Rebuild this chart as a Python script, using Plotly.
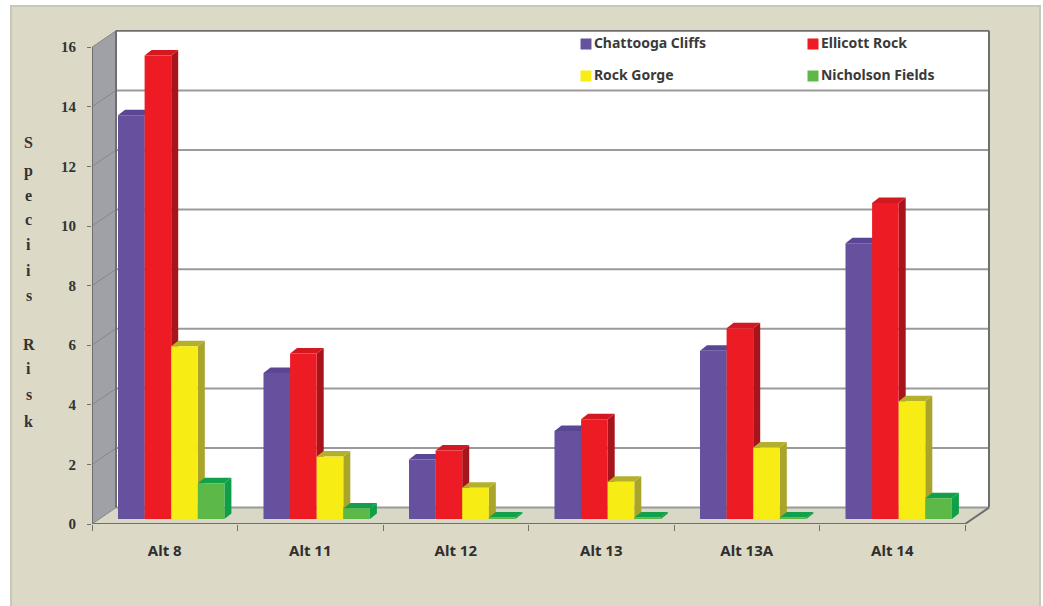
import plotly.graph_objects as go

categories = ["Alt 8", "Alt 11", "Alt 12", "Alt 13", "Alt 13A", "Alt 14"]
chattooga = [13.55, 4.9, 2.0, 2.95, 5.65, 9.25]
ellicott = [15.55, 5.55, 2.3, 3.35, 6.4, 10.6]
rock_gorge = [5.8, 2.1, 1.05, 1.25, 2.4, 3.95]
nicholson = [1.2, 0.35, 0.05, 0.05, 0.05, 0.7]
y_ticks = [0, 2, 4, 6, 8, 10, 12, 14, 16]
title_letters = ["S", "p", "e", "c", "i", "i", "s", "R", "i", "s", "k"]
title_pixels = [142, 170, 195, 220, 244, 270, 295, 344, 368, 394, 421]

W, H = 1043, 606
LEFT, RIGHT, TOP, BOTTOM = 92, 992, 30, 524
CAT_PX = 145.5
UNIT_PX = 29.8
XMAX = (RIGHT - LEFT) / CAT_PX
YMAX = (BOTTOM - TOP) / UNIT_PX


def px_x(p):
    return (p - LEFT) / CAT_PX


def px_y(p):
    return (BOTTOM - p) / UNIT_PX


def paper_x(p):
    return (p - LEFT) / (RIGHT - LEFT)


def paper_y(p):
    return (BOTTOM - p) / (BOTTOM - TOP)


WALL_DX, WALL_DY = px_x(116), 0.55
BAR_W, BAR_START, BAR_BASE = 26.6 / CAT_PX, 26 / CAT_PX, 5 / UNIT_PX
DEPTH_X, DEPTH_Y = 7 / CAT_PX, 5.5 / UNIT_PX

series = [
    ("Chattooga Cliffs", chattooga, "#66519f", "#4c3a80", "#5b4696"),
    ("Ellicott Rock", ellicott, "#ed1c24", "#a8141c", "#d3181f"),
    ("Rock Gorge", rock_gorge, "#f7ec13", "#a8a52a", "#b5b02c"),
    ("Nicholson Fields", nicholson, "#5cb947", "#0e9f48", "#13a04a"),
]
legend_pos = [(586, 44), (813, 44), (586, 76), (813, 76)]

GRID = "#9a9a9a"
EDGE = "#6f6f6f"
PANEL = "#dcd9c6"

shapes = [
    dict(type="rect", xref="paper", yref="paper", layer="below",
         x0=paper_x(11), x1=paper_x(1040), y0=paper_y(610), y1=paper_y(6),
         fillcolor=PANEL, line=dict(color="#c8c8b8", width=2)),
    # back wall
    dict(type="rect", layer="below", x0=WALL_DX, x1=6 + WALL_DX, y0=WALL_DY, y1=16 + WALL_DY,
         fillcolor="#ffffff", line=dict(width=0)),
    # left wall
    dict(type="path", layer="below",
         path=f"M0,0 L{WALL_DX},{WALL_DY} L{WALL_DX},{16 + WALL_DY} L0,16 Z",
         fillcolor="#a0a1a7", line=dict(width=0)),
    # floor
    dict(type="path", layer="below",
         path=f"M0,0 L{WALL_DX},{WALL_DY} L{6 + WALL_DX},{WALL_DY} L6,0 Z",
         fillcolor="#d9d7c5", line=dict(width=0)),
]
for v in y_ticks:
    shapes.append(dict(type="line", layer="below", x0=WALL_DX, x1=6 + WALL_DX,
                       y0=v + WALL_DY, y1=v + WALL_DY,
                       line=dict(color=EDGE if v == 16 else GRID, width=2)))
    shapes.append(dict(type="line", layer="below", x0=0, x1=WALL_DX, y0=v, y1=v + WALL_DY,
                       line=dict(color="#85858a", width=1)))
for x0, y0, x1, y1, wd in [
    (0, 0, 0, 16, 2),
    (WALL_DX, WALL_DY, WALL_DX, 16 + WALL_DY, 2),
    (6 + WALL_DX, WALL_DY, 6 + WALL_DX, 16 + WALL_DY, 2),
    (0, 0, 6, 0, 2),
    (6, 0, 6 + WALL_DX, WALL_DY, 2),
]:
    shapes.append(dict(type="line", layer="below", x0=x0, x1=x1, y0=y0, y1=y1,
                       line=dict(color=EDGE, width=wd)))

fig = go.Figure()


def add_faces(name, xs, ys, color):
    fig.add_trace(go.Scatter(x=xs, y=ys, mode="lines", fill="toself", fillcolor=color,
                             line=dict(width=0), name=name, showlegend=False, hoverinfo="skip"))


for s, (name, values, front, side, top) in enumerate(series):
    fx, fy, sx, sy, tx, ty = [], [], [], [], [], []
    for i, v in enumerate(values):
        x0 = i + BAR_START + s * BAR_W
        x1 = x0 + BAR_W
        y0 = BAR_BASE
        y1 = BAR_BASE + v
        fx += [x0, x1, x1, x0, x0, None]
        fy += [y0, y0, y1, y1, y0, None]
        sx += [x1, x1 + DEPTH_X, x1 + DEPTH_X, x1, x1, None]
        sy += [y0, y0 + DEPTH_Y, y1 + DEPTH_Y, y1, y0, None]
        tx += [x0, x1, x1 + DEPTH_X, x0 + DEPTH_X, x0, None]
        ty += [y1, y1, y1 + DEPTH_Y, y1 + DEPTH_Y, y1, None]
    add_faces(name, sx, sy, side)
    add_faces(name, tx, ty, top)
    add_faces(name, fx, fy, front)

for (name, _, front, _, _), (lx, ly) in zip(series, legend_pos):
    fig.add_trace(go.Scatter(
        x=[px_x(lx)], y=[px_y(ly)], mode="markers+text", text=[name],
        textposition="middle right",
        textfont=dict(family="Noto Sans", size=14, color="#3a3a3a", weight="bold"),
        marker=dict(symbol="square", size=11, color=front),
        showlegend=False, hoverinfo="skip"))

annotations = [
    dict(x=paper_x(29), y=paper_y(p), xref="paper", yref="paper", text=f"<b>{ch}</b>",
         xanchor="center", yanchor="middle", height=19, showarrow=False,
         font=dict(family="Liberation Serif", size=16, color="#333333"))
    for ch, p in zip(title_letters, title_pixels)
]

fig.update_layout(
    width=W, height=H,
    margin=dict(l=LEFT, r=W - RIGHT, t=TOP, b=H - BOTTOM, pad=0),
    paper_bgcolor="#ffffff", plot_bgcolor="rgba(0,0,0,0)",
    showlegend=False, shapes=shapes, annotations=annotations,
    xaxis=dict(range=[0, XMAX], tickmode="array",
               tickvals=[i + 0.5 for i in range(len(categories))], ticktext=categories,
               ticks="", showgrid=False, zeroline=False, showline=False,
               ticklabelstandoff=16,
               tickfont=dict(family="Noto Sans", size=15, color="#2f2f2f", weight="bold"),
               minor=dict(ticks="outside", ticklen=6, tickcolor=EDGE, tickwidth=1, showgrid=False,
                          tickmode="array", tickvals=list(range(len(categories) + 1)))),
    yaxis=dict(range=[0, YMAX], tickmode="array", tickvals=y_ticks,
               ticks="outside", ticklen=4, tickcolor=EDGE, tickwidth=1,
               showgrid=False, zeroline=False, showline=False,
               ticklabelstandoff=8,
               tickfont=dict(family="Liberation Serif", size=15, color="#333333", weight="bold")),
)

fig.write_html("out.html", config={"displayModeBar": False},
               post_script="document.body.style.margin='0';")
